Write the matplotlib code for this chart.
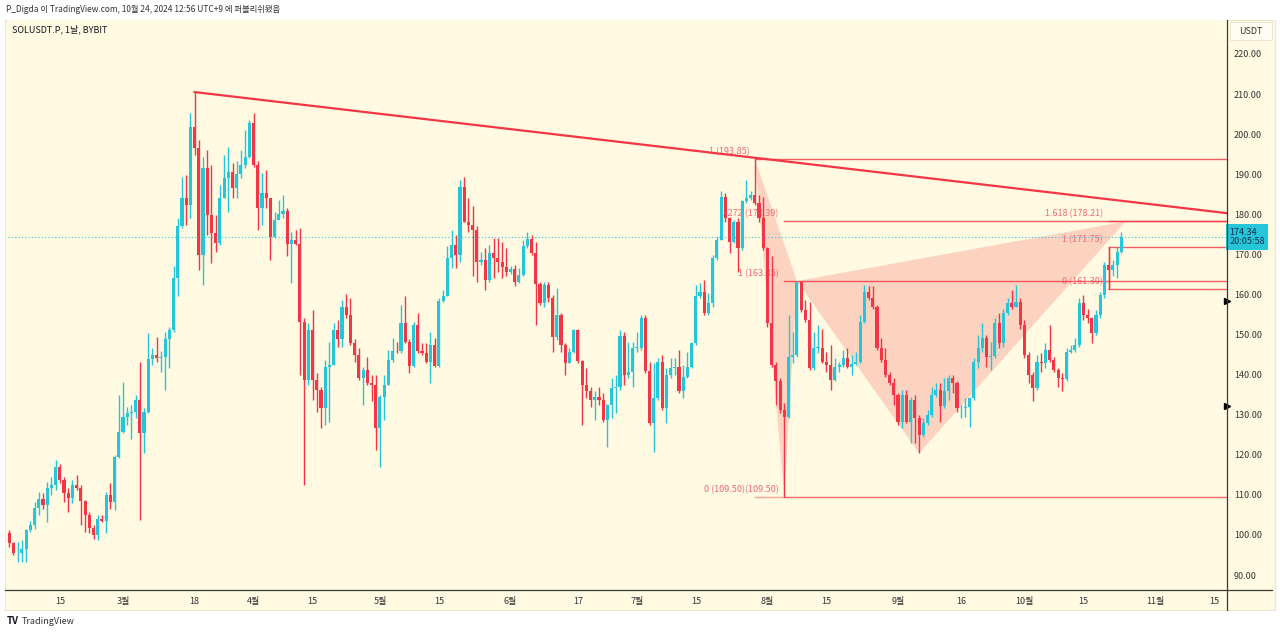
import matplotlib
matplotlib.use('Agg')
import matplotlib.pyplot as plt
import matplotlib.transforms as mtransforms
from matplotlib.patches import Rectangle, Polygon
from matplotlib.lines import Line2D
import numpy as np
import pandas as pd

plt.rcParams['font.family'] = ['Noto Sans CJK KR', 'DejaVu Sans']

# SOLUSDT.P daily candles, 2024-02-03 .. 2024-10-24
start = pd.Timestamp('2024-02-03')
first_open = 100.4
close = [
    97.9, 95.4, 95.6, 96.6, 101.2, 102.6, 106.8, 108.9, 107.6, 111.6,
    112.4, 117.0, 113.7, 110.4, 109.1, 112.4, 111.6, 108.5, 105.0, 101.8,
    100.0, 104.1, 103.5, 110.0, 108.3, 119.5, 125.8, 129.5, 130.4, 130.6,
    133.7, 125.4, 130.8, 144.0, 144.9, 144.2, 144.5, 149.0, 151.1, 164.0,
    177.0, 184.0, 182.3, 201.9, 196.5, 169.9, 191.5, 179.9, 175.3, 172.8,
    184.0, 189.0, 190.5, 186.5, 190.0, 192.3, 194.4, 202.7, 192.3, 181.5,
    185.3, 184.0, 174.4, 178.6, 180.0, 180.8, 172.5, 173.6, 172.5, 153.2,
    138.7, 151.1, 138.7, 136.2, 131.8, 142.0, 142.4, 151.1, 148.9, 157.0,
    154.9, 147.8, 144.9, 139.1, 141.2, 137.8, 137.4, 126.8, 134.5, 137.4,
    143.7, 146.0, 145.8, 152.8, 148.1, 142.2, 152.5, 146.0, 145.3, 143.2,
    147.4, 142.2, 158.4, 159.5, 169.2, 172.4, 169.9, 186.9, 178.2, 177.4,
    176.1, 168.2, 168.6, 163.6, 170.3, 169.0, 168.2, 166.9, 165.7, 166.3,
    163.2, 164.9, 172.2, 173.9, 170.3, 162.6, 157.8, 162.4, 159.0, 149.3,
    154.9, 147.4, 143.0, 145.7, 151.1, 143.4, 137.4, 135.8, 133.7, 134.5,
    133.7, 128.7, 132.4, 136.6, 137.0, 149.7, 139.9, 140.6, 146.6, 146.7,
    154.1, 140.8, 127.9, 134.1, 143.2, 131.6, 139.9, 141.6, 141.8, 135.8,
    139.5, 142.0, 147.8, 159.5, 160.7, 155.3, 157.8, 169.0, 173.6, 184.4,
    179.0, 173.2, 178.2, 171.5, 183.2, 184.0, 184.8, 182.8, 179.0, 171.5,
    152.8, 142.4, 138.3, 131.2, 129.5, 144.5, 144.9, 163.2, 156.1, 153.6,
    141.6, 146.6, 146.7, 143.2, 142.4, 138.7, 142.0, 142.4, 144.1, 142.0,
    142.6, 143.2, 153.2, 160.7, 159.0, 156.9, 146.6, 143.7, 139.9, 137.8,
    134.9, 128.3, 134.9, 128.3, 133.7, 129.1, 124.9, 127.9, 129.9, 134.9,
    136.2, 132.3, 136.0, 139.1, 137.8, 131.6, 131.8, 132.0, 134.1, 143.2,
    146.6, 149.2, 144.5, 144.7, 152.8, 147.8, 155.3, 157.8, 157.0, 158.2,
    152.4, 144.9, 139.9, 136.6, 143.2, 142.8, 146.1, 143.7, 141.2, 139.1,
    138.9, 145.7, 146.1, 147.4, 157.8, 154.9, 154.1, 150.3, 154.9, 159.9,
    167.4, 166.1, 167.4, 170.7, 174.34,
]
high = [
    101.2, 98.3, 98.3, 98.7, 101.6, 103.5, 108.3, 110.8, 110.4, 113.3,
    114.5, 118.7, 117.8, 114.5, 111.6, 113.7, 115.0, 112.5, 108.7, 105.8,
    102.5, 105.0, 105.0, 110.8, 112.9, 119.9, 134.9, 138.2, 132.0, 132.4,
    134.9, 143.2, 131.6, 150.3, 146.6, 149.5, 146.0, 150.7, 151.9, 167.0,
    179.0, 189.4, 189.8, 205.2, 210.5, 198.6, 194.4, 196.1, 192.3, 179.9,
    187.3, 194.8, 196.9, 192.7, 193.2, 196.1, 201.1, 203.6, 205.2, 193.2,
    190.3, 191.1, 184.0, 180.7, 183.6, 184.8, 181.5, 175.7, 176.1, 176.5,
    154.1, 152.8, 156.1, 140.3, 137.0, 143.7, 148.2, 152.8, 153.6, 158.6,
    160.0, 159.1, 149.0, 146.6, 142.0, 144.5, 139.9, 139.9, 134.9, 139.9,
    146.2, 149.1, 148.2, 157.4, 159.5, 149.0, 153.2, 155.3, 147.8, 147.8,
    150.7, 149.1, 159.1, 161.1, 172.0, 176.1, 174.9, 188.6, 189.4, 184.0,
    182.0, 177.0, 170.7, 171.5, 172.4, 174.0, 174.0, 173.2, 171.5, 167.0,
    167.4, 166.5, 173.6, 175.7, 174.9, 173.2, 163.2, 163.2, 163.2, 159.9,
    161.6, 155.3, 147.8, 146.6, 151.5, 151.5, 143.7, 141.6, 137.0, 135.8,
    137.0, 135.3, 132.8, 139.1, 139.9, 151.1, 150.7, 148.2, 148.2, 150.7,
    154.9, 154.9, 143.2, 142.8, 144.1, 144.9, 141.6, 144.1, 144.1, 146.2,
    142.4, 145.7, 148.2, 162.4, 162.8, 163.6, 160.3, 169.9, 174.4, 185.7,
    185.3, 179.4, 178.6, 179.0, 183.6, 188.6, 185.7, 193.85, 184.8, 184.4,
    171.9, 169.5, 143.2, 139.1, 133.0, 154.9, 150.7, 163.35, 163.2, 158.6,
    158.2, 150.7, 152.4, 151.5, 145.7, 147.4, 144.1, 143.2, 146.2, 146.6,
    144.9, 145.7, 154.9, 162.4, 162.0, 162.0, 157.4, 149.1, 146.6, 140.7,
    139.1, 135.3, 136.2, 136.2, 134.5, 134.9, 129.9, 129.1, 131.2, 137.0,
    137.8, 137.8, 139.1, 139.9, 139.9, 138.3, 132.4, 134.1, 134.5, 144.1,
    150.0, 152.8, 149.9, 148.2, 154.1, 155.3, 156.5, 159.1, 161.1, 162.4,
    159.1, 153.6, 145.7, 140.7, 144.9, 145.3, 147.8, 152.4, 144.5, 141.6,
    140.3, 146.6, 147.4, 149.1, 159.1, 159.9, 156.5, 154.5, 156.1, 160.7,
    168.2, 171.75, 168.6, 171.9, 175.5,
]
low = [
    97.1, 95.0, 93.3, 93.3, 93.3, 100.8, 101.5, 105.0, 106.6, 103.3,
    109.9, 111.2, 112.9, 108.3, 105.8, 107.9, 111.2, 102.5, 100.8, 100.4,
    99.1, 98.7, 103.3, 100.4, 106.6, 106.2, 119.1, 125.4, 127.4, 124.0,
    129.1, 103.7, 120.4, 130.4, 142.4, 143.2, 140.7, 136.2, 141.6, 150.7,
    159.5, 176.5, 177.4, 179.0, 194.8, 166.1, 162.4, 174.9, 167.8, 170.7,
    172.4, 184.0, 180.7, 184.0, 184.0, 189.0, 191.5, 194.0, 191.9, 176.1,
    177.4, 181.5, 168.6, 174.0, 179.0, 179.0, 169.5, 162.8, 172.4, 139.9,
    112.5, 137.4, 133.7, 130.8, 126.6, 127.4, 128.3, 142.4, 147.0, 147.0,
    154.1, 147.4, 143.2, 138.7, 132.4, 137.4, 133.3, 121.2, 117.0, 128.7,
    137.4, 143.2, 145.3, 145.3, 147.8, 140.3, 142.0, 145.3, 144.9, 142.8,
    137.8, 142.0, 142.0, 158.2, 159.5, 166.5, 166.5, 168.2, 178.2, 175.7,
    164.5, 163.2, 167.4, 161.1, 163.2, 164.0, 165.7, 164.0, 164.5, 165.0,
    162.0, 162.8, 164.5, 171.5, 169.9, 152.4, 157.4, 157.0, 158.2, 145.7,
    148.6, 145.7, 139.9, 142.8, 145.3, 142.8, 127.4, 134.1, 132.0, 128.7,
    132.4, 128.3, 122.0, 129.1, 130.4, 136.2, 137.4, 139.1, 137.0, 145.7,
    146.2, 140.3, 127.4, 120.8, 133.7, 131.2, 127.9, 139.1, 139.9, 135.3,
    134.1, 139.1, 141.6, 147.4, 159.1, 154.9, 154.9, 157.0, 168.6, 173.6,
    178.2, 170.3, 172.8, 165.7, 171.1, 182.8, 183.6, 182.3, 178.2, 171.1,
    152.0, 142.0, 132.4, 130.4, 109.5, 129.1, 142.8, 144.5, 155.7, 153.2,
    141.2, 141.2, 145.3, 142.8, 140.7, 136.2, 138.3, 140.7, 142.0, 141.6,
    139.9, 142.4, 142.8, 152.8, 158.6, 156.5, 146.2, 143.2, 139.5, 137.4,
    132.4, 127.4, 126.6, 127.9, 123.0, 122.9, 120.4, 124.5, 127.4, 129.5,
    134.5, 128.3, 131.8, 133.7, 135.3, 130.8, 129.1, 129.5, 127.0, 133.7,
    141.6, 145.7, 142.0, 141.2, 144.1, 146.6, 147.0, 154.9, 156.5, 156.9,
    151.5, 144.1, 137.8, 133.3, 136.2, 140.7, 141.6, 143.2, 140.7, 137.0,
    135.8, 138.3, 145.3, 145.7, 147.0, 153.6, 152.8, 147.8, 149.9, 154.1,
    159.1, 161.3, 164.5, 164.0, 170.3,
]
last_price = 174.34

tick_dates = ['2024-02-15', '2024-03-01', '2024-03-18', '2024-04-01', '2024-04-15',
              '2024-05-01', '2024-05-15', '2024-06-01', '2024-06-17', '2024-07-01',
              '2024-07-15', '2024-08-01', '2024-08-15', '2024-09-01', '2024-09-16',
              '2024-10-01', '2024-10-15', '2024-11-01', '2024-11-15']
tick_labels = ['15', '3월', '18', '4월', '15', '5월', '15', '6월', '17', '7월',
               '15', '8월', '15', '9월', '16', '10월', '15', '11월', '15']

# drawings
trend_dates = ['2024-03-18', '2024-11-18']
trend_prices = [210.5, 180.3]
xabcd_dates = ['2024-07-29', '2024-08-05', '2024-08-08', '2024-09-06', '2024-10-25']
xabcd_prices = [193.85, 109.50, 163.35, 120.40, 178.21]
fib_a_date = '2024-07-29'
fib_a_levels = [193.85, 109.50]
fib_a_text = ['1 (193.85)', '']
fib_b_date = '2024-08-05'
fib_b_levels = [178.39, 163.35, 109.50]
fib_b_text = ['1.272 (178.39)', '1 (163.35)', '0 (109.50)(109.50)']
fib_c_date = '2024-10-21'
fib_c_levels = [178.21, 171.75, 161.30]
fib_c_text = ['1.618 (178.21)', '1 (171.75)', '0 (161.30)']
markers = [158.4, 132.2]


def day(d):
    return (pd.Timestamp(d) - start).days


up_col = '#26c6da'
dn_col = '#f23645'
bg = '#fffae1'

c = np.array(close)
o = np.concatenate([[first_open], c[:-1]])
h = np.array(high)
l = np.array(low)
x = np.arange(len(c))
cols = np.where(c >= o, up_col, dn_col)

fig = plt.figure(figsize=(12.8, 6.34), dpi=100)
fig.patch.set_facecolor('white')
W, H = 1280, 634
fig.patches.append(Rectangle((5 / W, 1 - 610 / H), 1270 / W, 590 / H,
                             transform=fig.transFigure, facecolor=bg,
                             edgecolor='#ece8d0', lw=0.8, zorder=-5))

ax = fig.add_axes([8 / W, 1 - 590 / H, 1219 / W, 570 / H])
ax.set_facecolor(bg)
ax.set_xlim(-0.3, 289.1)
ax.set_ylim(86.27, 228.48)

# candles
ax.vlines(x, l, h, colors=cols, lw=1, zorder=3)
body = np.maximum(np.abs(c - o), 0.2)
ax.bar(x, body, bottom=np.minimum(o, c), width=0.74, color=cols, zorder=4)

# harmonic pattern fill
pts = [(day(d), p) for d, p in zip(xabcd_dates, xabcd_prices)]
ax.add_patch(Polygon([pts[0], pts[1], pts[2]], closed=True, facecolor=dn_col,
                     alpha=0.2, edgecolor='none', zorder=1))
ax.add_patch(Polygon([pts[2], pts[3], pts[4]], closed=True, facecolor=dn_col,
                     alpha=0.2, edgecolor='none', zorder=1))

# trend line
ax.plot([day(d) for d in trend_dates], trend_prices, color=dn_col, lw=1.6, zorder=2)

# fib levels
xr = ax.get_xlim()[1]
for d, levels, texts in [(fib_a_date, fib_a_levels, fib_a_text),
                         (fib_b_date, fib_b_levels, fib_b_text),
                         (fib_c_date, fib_c_levels, fib_c_text)]:
    x0 = day(d)
    for lv, t in zip(levels, texts):
        a = 0.45 if lv < 110 else 0.8
        ax.plot([x0, xr], [lv, lv], color=dn_col, lw=1, alpha=a, zorder=2)
        if t:
            ax.annotate(t, (x0, lv), xytext=(-4, 2), textcoords='offset points',
                        ha='right', va='bottom', fontsize=6.5, color='#ee6b75', zorder=1)
ax.plot([day(fib_c_date)] * 2, [fib_c_levels[2], fib_c_levels[1]],
        color=dn_col, lw=1, alpha=0.8, zorder=2)

# last price line
ax.axhline(last_price, color=up_col, lw=0.8, ls=(0, (1, 2)), zorder=2)

# axes
for s in ax.spines.values():
    s.set_visible(False)
ax.yaxis.tick_right()
yt = np.arange(90, 221, 10)
ax.set_yticks(yt)
ax.set_yticklabels(['%.2f' % v for v in yt])
ax.set_xticks([day(d) for d in tick_dates])
ax.set_xticklabels(tick_labels)
ax.tick_params(axis='y', length=0, pad=5, labelsize=6.5, labelcolor='#333333')
ax.tick_params(axis='x', length=0, pad=5, labelsize=6.5, labelcolor='#333333')

fig.lines.append(Line2D([1227 / W, 1227 / W], [1 - 20 / H, 1 - 610 / H],
                        transform=fig.transFigure, color='#3a3a3a', lw=0.9))
fig.lines.append(Line2D([5 / W, 1272 / W], [1 - 590 / H, 1 - 590 / H],
                        transform=fig.transFigure, color='#3a3a3a', lw=0.9))

blend = mtransforms.blended_transform_factory(ax.transAxes, ax.transData)
ax.text(1.002, last_price, '%.2f\n20:05:58' % last_price, transform=blend,
        fontsize=6.5, color='#10304d', va='center', ha='left', linespacing=1.1,
        bbox=dict(boxstyle='square,pad=0.35', fc=up_col, ec='none'), zorder=6,
        clip_on=False)
for m in markers:
    ax.plot([1.0], [m], marker='>', ms=5, color='black', transform=blend,
            clip_on=False, zorder=6)

fig.patches.append(Rectangle((1230 / W, 1 - 40 / H), 42 / W, 18 / H,
                             transform=fig.transFigure, facecolor='#fffdf2',
                             edgecolor='#e6e2cc', lw=0.6))
fig.text(1251 / W, 1 - 31 / H, 'USDT', fontsize=6.5, ha='center', va='center',
         color='#333333')

fig.text(6 / W, 1 - 10 / H, 'P_Digda 이 TradingView.com, 10월 24, 2024 12:56 UTC+9 에 퍼블리쉬됐음',
         fontsize=6, va='center', color='#333333')
fig.text(12 / W, 1 - 29 / H, 'SOLUSDT.P, 1날, BYBIT', fontsize=6.5, va='center',
         color='#131722')
fig.text(7 / W, 1 - 621 / H, 'TV', fontsize=7, weight='bold', va='center',
         color='#131722')
fig.text(22 / W, 1 - 621 / H, 'TradingView', fontsize=6.5, va='center',
         color='#333333')

fig.savefig('out.png', dpi=100)
